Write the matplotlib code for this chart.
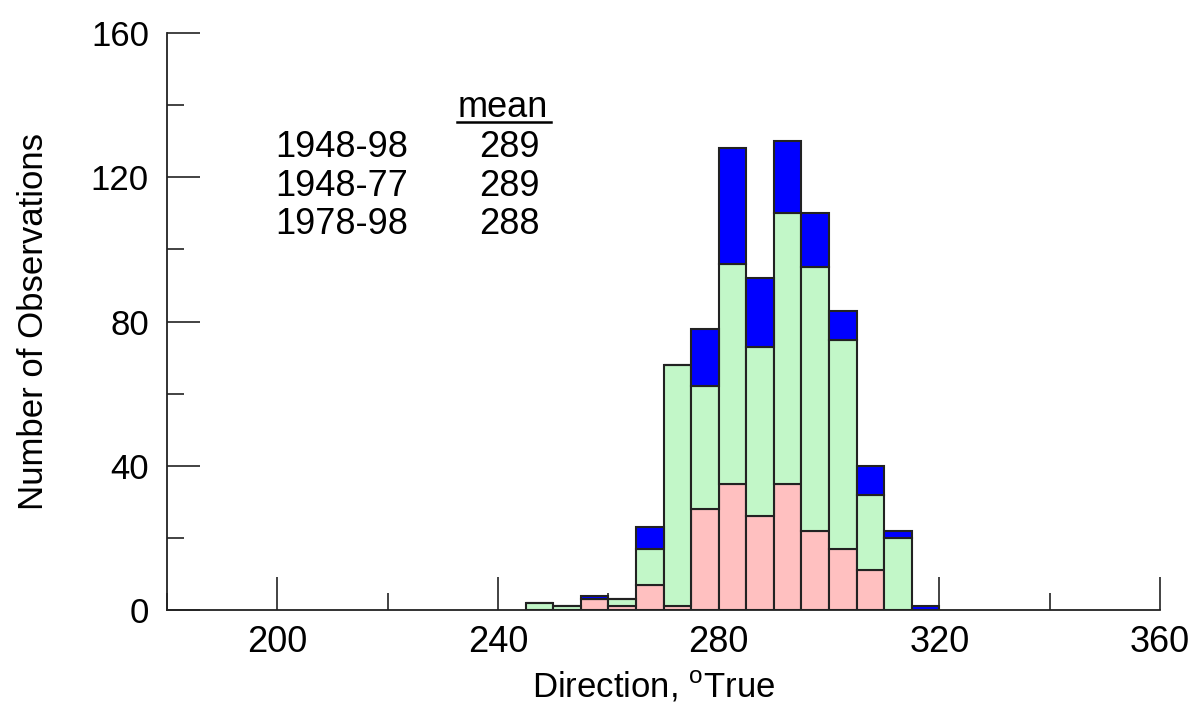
import numpy as np
import matplotlib
matplotlib.use("Agg")
import matplotlib.pyplot as plt
from matplotlib.ticker import MultipleLocator

plt.rcParams['font.family'] = ['Liberation Sans', 'DejaVu Sans']
plt.rcParams['mathtext.fontset'] = 'custom'
plt.rcParams['mathtext.rm'] = 'Liberation Sans'

# bin left edges (deg True), 5 deg bins
bin_left = [245, 250, 255, 260, 265, 270, 275, 280, 285, 290, 295, 300, 305, 310, 315]
# stacked segments
pink  = [0, 0, 3, 1, 7, 1, 28, 35, 26, 35, 22, 17, 11, 0, 0]
green = [2, 1, 0, 2, 10, 67, 34, 61, 47, 75, 73, 58, 21, 20, 0]
blue  = [0, 0, 1, 0, 6, 0, 16, 32, 19, 20, 15, 8, 8, 2, 1]

periods = ['1948-98', '1948-77', '1978-98']
means = [289, 289, 288]

pink = np.array(pink)
green = np.array(green)
blue = np.array(blue)
x = np.array(bin_left)

fig = plt.figure(figsize=(11.94, 7.07), dpi=100)
ax = fig.add_axes([0.1399, 0.1372, 0.8316, 0.8161])

ec = '#222222'
lw = 1.5
ax.bar(x, pink, width=5, align='edge', color='#FFC0C0', edgecolor=ec, linewidth=lw)
ax.bar(x, green, width=5, align='edge', bottom=pink, color='#C2F7C8', edgecolor=ec, linewidth=lw)
ax.bar(x, blue, width=5, align='edge', bottom=pink + green, color='#0000FF', edgecolor=ec, linewidth=lw)

ax.set_xlim(180, 360)
ax.set_ylim(0, 160)
ax.xaxis.set_minor_locator(MultipleLocator(20))
ax.yaxis.set_major_locator(MultipleLocator(40))
ax.yaxis.set_minor_locator(MultipleLocator(20))
ax.set_xticks([200, 240, 280, 320, 360])

for s in ['top', 'right']:
    ax.spines[s].set_visible(False)
for s in ['left', 'bottom']:
    ax.spines[s].set_linewidth(1.3)
    ax.spines[s].set_color('#222222')

ax.tick_params(which='major', direction='in', length=24, width=1.2, colors='#222222')
ax.tick_params(which='minor', direction='in', length=12, width=1.2, colors='#222222')
ax.tick_params(axis='x', which='major', labelsize=26, pad=11, labelcolor='black')
ax.tick_params(axis='y', which='major', labelsize=25, pad=13, labelcolor='black')

ax.set_xlabel(r'Direction, $^{\mathrm{o}}$True', fontsize=25)
ax.set_ylabel('Number of Observations', fontsize=25)
ax.xaxis.set_label_coords(0.49, -0.102)
ax.yaxis.set_label_coords(-0.118, 0.5)

# mean table
ax.text(249.1, 136.7, 'mean', fontsize=26, ha='right', va='baseline')
ax.plot([232.5, 249.6], [135.4, 135.4], color='black', linewidth=1.8, clip_on=False)
ys = [125.6, 114.9, 104.4]
for p, m, yy in zip(periods, means, ys):
    ax.text(199.6, yy, p, fontsize=26, ha='left', va='baseline')
    ax.text(247.6, yy, str(m), fontsize=26, ha='right', va='baseline')

fig.savefig('out.png', dpi=100)
